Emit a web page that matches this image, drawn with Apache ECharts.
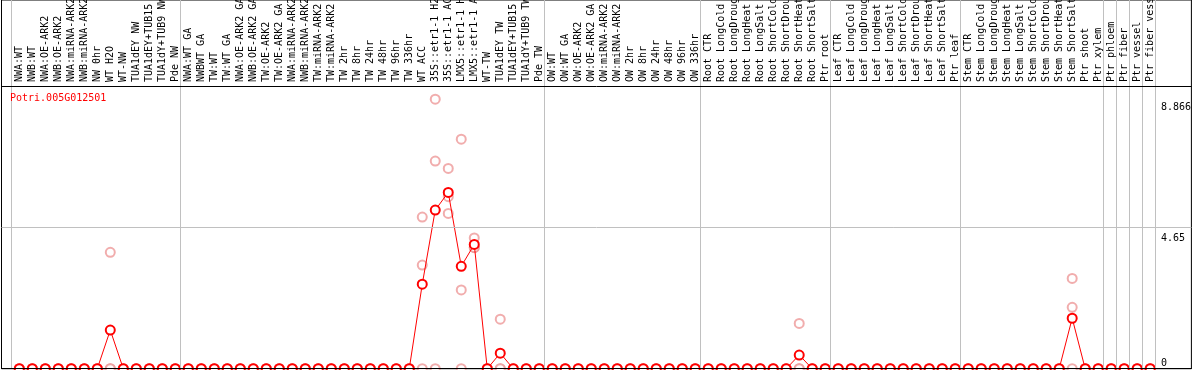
<!DOCTYPE html>
<html>
<head>
<meta charset="utf-8">
<script src="https://cdn.jsdelivr.net/npm/echarts@6/dist/echarts.min.js"></script>
<style>
  html, body { margin: 0; padding: 0; background: #fff; }
  #chart { width: 1194px; height: 370px; }
</style>
</head>
<body>
<div id="chart"></div>
<script>
// sample names, as printed (cut to 14 chars)
const categories = [
    'NWA:WT', 'NWB:WT', 'NWA:OE-ARK2', 'NWB:OE-ARK2', 'NWA:miRNA-ARK2', 'NWB:miRNA-ARK2',
    'NW 0hr', 'WT H2O', 'WT-NW', 'TUA1dEY NW', 'TUA1dEY+TUB15', 'TUA1dY+TUB9 NW', 'Pde NW',
    'NWA:WT GA', 'NWBWT GA', 'TW:WT', 'TW:WT GA', 'NWA:OE-ARK2 GA', 'NWB:OE-ARK2 GA',
    'TW:OE-ARK2', 'TW:OE-ARK2 GA', 'NWA:miRNA-ARK2', 'NWB:miRNA-ARK2', 'TW:miRNA-ARK2', 'TW:miRNA-ARK2',
    'TW 2hr', 'TW 8hr', 'TW 24hr', 'TW 48hr', 'TW 96hr', 'TW 336hr', 'WT ACC',
    '35S::etr1-1 H2', '35S::etr1-1 AC', 'LMX5::etr1-1 H', 'LMX5::etr1-1 A',
    'WT-TW', 'TUA1dEY TW', 'TUA1dEY+TUB15', 'TUA1dY+TUB9 TW', 'Pde TW',
    'OW:WT', 'OW:WT GA', 'OW:OE-ARK2', 'OW:OE-ARK2 GA', 'OW:miRNA-ARK2', 'OW:miRNA-ARK2',
    'OW 2hr', 'OW 8hr', 'OW 24hr', 'OW 48hr', 'OW 96hr', 'OW 336hr',
    'Root CTR', 'Root LongCold', 'Root LongDroug', 'Root LongHeat', 'Root LongSalt',
    'Root ShortCold', 'Root ShortDrou', 'Root ShortHeat', 'Root ShortSalt', 'Ptr root',
    'Leaf CTR', 'Leaf LongCold', 'Leaf LongDroug', 'Leaf LongHeat', 'Leaf LongSalt',
    'Leaf ShortCold', 'Leaf ShortDrou', 'Leaf ShortHeat', 'Leaf ShortSalt', 'Ptr leaf',
    'Stem CTR', 'Stem LongCold', 'Stem LongDroug', 'Stem LongHeat', 'Stem LongSalt',
    'Stem ShortCold', 'Stem ShortDrou', 'Stem ShortHeat', 'Stem ShortSalt', 'Ptr shoot',
    'Ptr xylem', 'Ptr phloem', 'Ptr fiber', 'Ptr vessel', 'Ptr fiber vess'
];

// last sample index of each group (a grey line is drawn after it)
const groupEnds = [12, 40, 52, 62, 72, 83, 84, 85, 86, 87];

// mean expression per sample
const means = [
    0, 0, 0, 0, 0, 0, 0, 1.27, 0, 0, 0, 0, 0,
    0, 0, 0, 0, 0, 0, 0, 0, 0, 0, 0, 0, 0, 0, 0, 0, 0, 0, 2.78, 5.22, 5.80, 3.37, 4.09, 0, 0.51, 0, 0, 0,
    0, 0, 0, 0, 0, 0, 0, 0, 0, 0, 0, 0,
    0, 0, 0, 0, 0, 0, 0, 0.45, 0, 0,
    0, 0, 0, 0, 0, 0, 0, 0, 0, 0,
    0, 0, 0, 0, 0, 0, 0, 0, 1.66, 0,
    0, 0, 0, 0, 0
];

// replicates
const rep1 = [
    0, 0, 0, 0, 0, 0, 0, 3.83, 0, 0, 0, 0, 0,
    0, 0, 0, 0, 0, 0, 0, 0, 0, 0, 0, 0, 0, 0, 0, 0, 0, 0, 3.41, 8.866, 6.59, 7.55, 4.30, 0, 1.63, 0, 0, 0,
    0, 0, 0, 0, 0, 0, 0, 0, 0, 0, 0, 0,
    0, 0, 0, 0, 0, 0, 0, 1.49, 0, 0,
    0, 0, 0, 0, 0, 0, 0, 0, 0, 0,
    0, 0, 0, 0, 0, 0, 0, 0, 2.97, 0,
    0, 0, 0, 0, 0
];
const rep2 = [
    0, 0, 0, 0, 0, 0, 0, 0, 0, 0, 0, 0, 0,
    0, 0, 0, 0, 0, 0, 0, 0, 0, 0, 0, 0, 0, 0, 0, 0, 0, 0, 4.99, 6.83, 5.66, 2.59, 3.98, 0, 0, 0, 0, 0,
    0, 0, 0, 0, 0, 0, 0, 0, 0, 0, 0, 0,
    0, 0, 0, 0, 0, 0, 0, 0, 0, 0,
    0, 0, 0, 0, 0, 0, 0, 0, 0, 0,
    0, 0, 0, 0, 0, 0, 0, 0, 2.02, 0,
    0, 0, 0, 0, 0
];
const rep3 = [
    0, 0, 0, 0, 0, 0, 0, 0, 0, 0, 0, 0, 0,
    0, 0, 0, 0, 0, 0, 0, 0, 0, 0, 0, 0, 0, 0, 0, 0, 0, 0, 0, 0, 5.11, 0, 3.99, 0, 0, 0, 0, 0,
    0, 0, 0, 0, 0, 0, 0, 0, 0, 0, 0, 0,
    0, 0, 0, 0, 0, 0, 0, 0, 0, 0,
    0, 0, 0, 0, 0, 0, 0, 0, 0, 0,
    0, 0, 0, 0, 0, 0, 0, 0, 0, 0,
    0, 0, 0, 0, 0
];

const geneName = 'Potri.005G012501';
const midValue = 4.65;

const mono = 'DejaVu Sans Mono';
const topVal = 12.13;
const headerVal = 9.3;

let repPoints = [];
for (let r of [rep1, rep2, rep3]) {
    r.forEach((v, i) => repPoints.push([i, v]));
}
let meanPoints = means.map((v, i) => [i, v]);
let maxVal = Math.max(...rep1, ...rep2, ...rep3);

let lines = [{ xAxis: -0.6 }];
for (let e of groupEnds) {
    lines.push({ xAxis: e + 0.4 });
}
lines.push({ yAxis: midValue });
lines.push({ yAxis: headerVal, lineStyle: { color: '#000' } });

let myChart = echarts.init(document.getElementById('chart'));
let yLabelAxis = (vals, va, pad) => ({
    type: 'value',
    gridIndex: 0,
    min: 0,
    max: topVal,
    position: 'right',
    axisLine: { show: false },
    axisTick: { show: false },
    splitLine: { show: false },
    axisLabel: {
        inside: true,
        align: 'left',
        margin: 30.5,
        verticalAlign: va,
        padding: pad,
        customValues: vals,
        fontFamily: mono,
        fontSize: 10,
        color: '#000',
        formatter: v => String(v)
    }
});

let option = {
    animation: false,
    title: {
        text: geneName,
        left: 10,
        top: 93,
        padding: 0,
        textStyle: { color: '#ff0000', fontFamily: mono, fontSize: 10, fontWeight: 'normal' }
    },
    grid: [
        { left: 1.5, right: 2.5, top: 0, bottom: 1.3, show: true, borderColor: '#000', borderWidth: 1 },
        { left: 12.8, width: 1144, top: 0, height: 85 }
    ],
    xAxis: [
        {
            type: 'value',
            gridIndex: 0,
            min: -1.369,
            max: 90.17,
            z: 5,
            axisLine: { show: true, onZero: false, lineStyle: { color: '#000', width: 1 } },
            axisTick: { show: false },
            axisLabel: { show: false },
            splitLine: { show: false }
        },
        {
            type: 'category',
            gridIndex: 1,
            data: categories,
            boundaryGap: true,
            axisLine: { show: false },
            axisTick: { show: false },
            splitLine: { show: false },
            axisLabel: {
                inside: true,
                rotate: 90,
                interval: 0,
                margin: 3,
                fontFamily: mono,
                fontSize: 10,
                color: '#000'
            }
        }
    ],
    yAxis: [
        { type: 'value', gridIndex: 0, min: 0, max: topVal, show: false },
        yLabelAxis([0], 'bottom', [0, 0, 0, 0]),
        yLabelAxis([midValue], 'top', [6, 0, 0, 0]),
        yLabelAxis([maxVal], 'top', [3, 0, 0, 0]),
        { type: 'value', gridIndex: 1, show: false }
    ],
    series: [
        {
            type: 'scatter',
            xAxisIndex: 0,
            yAxisIndex: 0,
            data: repPoints,
            symbol: 'emptyCircle',
            symbolSize: 9,
            itemStyle: { color: '#ee9999', borderWidth: 1 },
            markLine: {
                silent: true,
                symbol: 'none',
                label: { show: false },
                lineStyle: { color: '#c0c0c0', width: 1, type: 'solid' },
                data: lines
            }
        },
        {
            type: 'line',
            xAxisIndex: 0,
            yAxisIndex: 0,
            data: meanPoints,
            symbol: 'emptyCircle',
            symbolSize: 9,
            lineStyle: { color: '#ff0000', width: 1 },
            itemStyle: { color: '#ff0000', borderWidth: 1.5 }
        }
    ]
};
option && myChart.setOption(option);
</script>
</body>
</html>
